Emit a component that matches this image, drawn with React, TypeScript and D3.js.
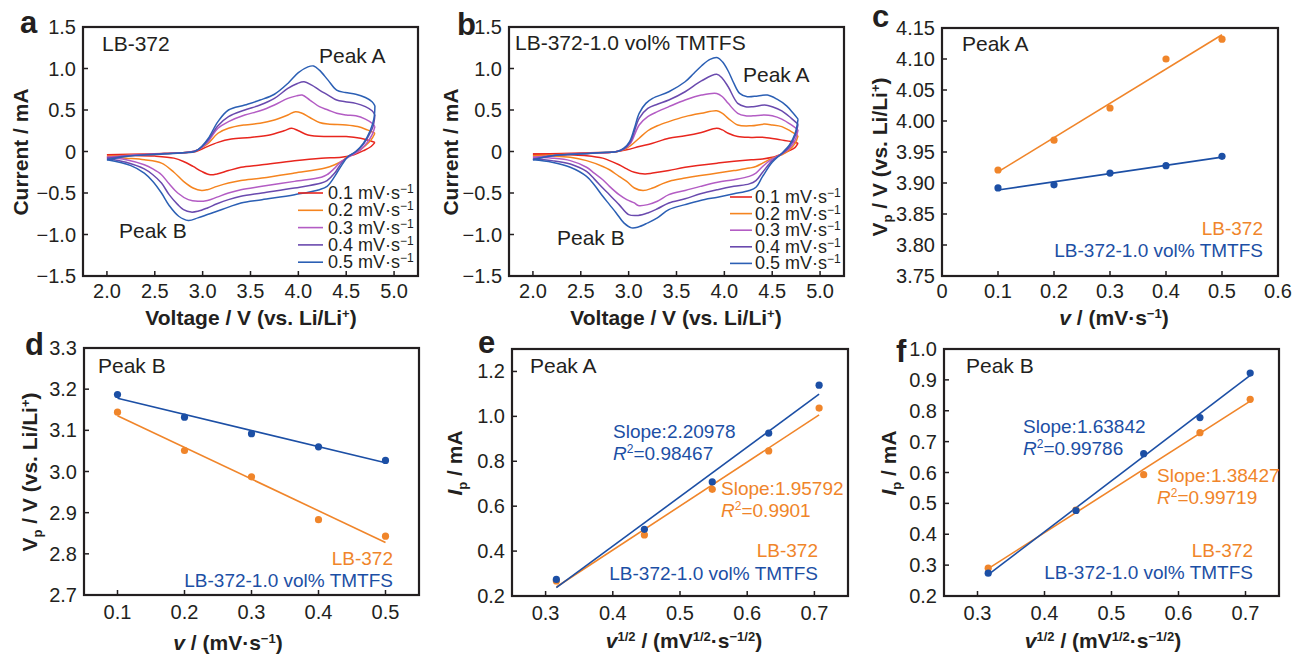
import React from 'react';
import * as d3 from 'd3';

type Pt = [number, number];

const FONT = 'Liberation Sans, Arial, Helvetica, sans-serif';
const INK = '#231f20';
const TICK_FS = 20;
const TITLE_FS = 21;
const PEAK_FS = 21;

// ---------- Data ----------
const scanRateLabels = ['0.1', '0.2', '0.3', '0.4', '0.5'];
const cvColors = ['#e8261e', '#f5841f', '#b35cc4', '#6a4aae', '#2b5fb4'];
const orangeC = '#f0852a';
const blueC = '#1c4fa5';

// Panel a: LB-372 CV (V, mA)
const aFwd01: Pt[] = [[2.0,-0.04],[2.4,-0.03],[2.8,-0.015],[2.93,0.0],[3.03,0.05],[3.16,0.11],[3.3,0.15],[3.5,0.17],[3.7,0.2],[3.85,0.25],[3.93,0.28],[4.0,0.25],[4.1,0.2],[4.3,0.18],[4.5,0.18],[4.65,0.16],[4.75,0.13],[4.8,0.11]];
const aRev01: Pt[] = [[4.8,0.11],[4.76,0.06],[4.68,0.01],[4.58,-0.04],[4.45,-0.07],[4.24,-0.08],[3.96,-0.11],[3.62,-0.16],[3.4,-0.19],[3.27,-0.23],[3.15,-0.27],[3.08,-0.28],[2.99,-0.24],[2.9,-0.18],[2.8,-0.12],[2.7,-0.08],[2.5,-0.055],[2.2,-0.045],[2.0,-0.04]];
const aFwd02: Pt[] = [[2.0,-0.06],[2.3,-0.04],[2.6,-0.025],[2.85,-0.01],[2.95,0.02],[3.05,0.09],[3.16,0.22],[3.27,0.28],[3.44,0.32],[3.6,0.34],[3.75,0.38],[3.89,0.44],[3.97,0.48],[4.04,0.46],[4.12,0.41],[4.22,0.35],[4.31,0.33],[4.5,0.32],[4.62,0.3],[4.72,0.26],[4.8,0.22]];
const aRev02: Pt[] = [[4.8,0.22],[4.76,0.14],[4.7,0.07],[4.62,0.0],[4.52,-0.06],[4.45,-0.12],[4.38,-0.16],[4.28,-0.2],[3.96,-0.26],[3.62,-0.32],[3.4,-0.35],[3.27,-0.38],[3.15,-0.42],[3.05,-0.46],[2.99,-0.47],[2.9,-0.44],[2.8,-0.36],[2.7,-0.25],[2.57,-0.14],[2.39,-0.1],[2.2,-0.08],[2.0,-0.06]];
const aFwd03: Pt[] = [[2.0,-0.07],[2.3,-0.04],[2.6,-0.025],[2.85,-0.01],[2.95,0.02],[3.05,0.11],[3.16,0.28],[3.27,0.36],[3.44,0.44],[3.6,0.49],[3.75,0.56],[3.89,0.64],[3.98,0.67],[4.04,0.68],[4.12,0.62],[4.22,0.54],[4.31,0.5],[4.4,0.46],[4.5,0.44],[4.6,0.43],[4.7,0.39],[4.77,0.34],[4.8,0.3]];
const aRev03: Pt[] = [[4.8,0.3],[4.77,0.2],[4.72,0.11],[4.65,0.02],[4.55,-0.05],[4.45,-0.12],[4.38,-0.2],[4.3,-0.28],[4.24,-0.31],[3.96,-0.36],[3.62,-0.42],[3.4,-0.46],[3.27,-0.5],[3.15,-0.55],[3.05,-0.59],[2.95,-0.6],[2.85,-0.58],[2.74,-0.5],[2.65,-0.39],[2.57,-0.28],[2.48,-0.21],[2.39,-0.16],[2.2,-0.1],[2.0,-0.07]];
const aFwd04: Pt[] = [[2.0,-0.08],[2.3,-0.045],[2.6,-0.025],[2.85,-0.01],[2.95,0.02],[3.05,0.13],[3.16,0.31],[3.27,0.42],[3.44,0.5],[3.6,0.56],[3.75,0.64],[3.89,0.76],[3.99,0.82],[4.06,0.84],[4.14,0.8],[4.22,0.74],[4.31,0.68],[4.4,0.62],[4.49,0.6],[4.6,0.58],[4.7,0.54],[4.77,0.49],[4.8,0.44]];
const aRev04: Pt[] = [[4.8,0.44],[4.78,0.3],[4.73,0.18],[4.66,0.06],[4.58,-0.02],[4.52,-0.06],[4.45,-0.14],[4.38,-0.26],[4.3,-0.35],[4.24,-0.38],[3.96,-0.44],[3.62,-0.5],[3.4,-0.54],[3.27,-0.58],[3.15,-0.63],[3.05,-0.68],[2.95,-0.72],[2.88,-0.73],[2.8,-0.7],[2.74,-0.64],[2.65,-0.52],[2.57,-0.38],[2.48,-0.28],[2.39,-0.21],[2.2,-0.13],[2.0,-0.08]];
const aFwd05: Pt[] = [[2.0,-0.1],[2.2,-0.06],[2.5,-0.035],[2.8,-0.015],[2.92,0.0],[2.99,0.06],[3.06,0.16],[3.16,0.36],[3.27,0.5],[3.44,0.56],[3.6,0.62],[3.75,0.69],[3.89,0.82],[4.0,0.95],[4.1,1.02],[4.16,1.03],[4.22,0.98],[4.31,0.86],[4.4,0.74],[4.49,0.71],[4.6,0.69],[4.7,0.65],[4.77,0.6],[4.8,0.55]];
const aRev05: Pt[] = [[4.8,0.55],[4.79,0.4],[4.75,0.25],[4.68,0.1],[4.6,0.0],[4.52,-0.06],[4.45,-0.17],[4.38,-0.3],[4.3,-0.42],[4.22,-0.46],[3.96,-0.52],[3.62,-0.58],[3.4,-0.62],[3.27,-0.67],[3.15,-0.72],[3.05,-0.76],[2.95,-0.8],[2.85,-0.83],[2.75,-0.78],[2.65,-0.65],[2.57,-0.5],[2.48,-0.36],[2.39,-0.26],[2.25,-0.17],[2.0,-0.1]];

// Panel b: LB-372-1.0 vol% TMTFS CV (V, mA)
const bFwd01: Pt[] = [[2.0,-0.03],[2.3,-0.025],[2.6,-0.015],[2.85,-0.005],[2.98,0.02],[3.11,0.06],[3.25,0.1],[3.42,0.16],[3.59,0.19],[3.76,0.23],[3.92,0.28],[3.98,0.26],[4.04,0.22],[4.14,0.18],[4.28,0.17],[4.42,0.17],[4.59,0.14],[4.7,0.12],[4.77,0.1]];
const bRev01: Pt[] = [[4.77,0.1],[4.74,0.05],[4.68,0.01],[4.6,-0.03],[4.5,-0.07],[4.4,-0.09],[4.28,-0.1],[3.93,-0.14],[3.59,-0.19],[3.42,-0.23],[3.25,-0.26],[3.17,-0.27],[3.06,-0.25],[2.98,-0.21],[2.9,-0.16],[2.8,-0.11],[2.73,-0.08],[2.56,-0.05],[2.39,-0.04],[2.0,-0.03]];
const bFwd02: Pt[] = [[2.0,-0.05],[2.3,-0.035],[2.6,-0.02],[2.85,-0.005],[2.95,0.02],[3.02,0.07],[3.11,0.16],[3.2,0.25],[3.3,0.31],[3.42,0.36],[3.59,0.42],[3.76,0.46],[3.92,0.49],[3.98,0.46],[4.04,0.4],[4.14,0.32],[4.28,0.31],[4.42,0.33],[4.5,0.32],[4.6,0.3],[4.7,0.24],[4.77,0.19]];
const bRev02: Pt[] = [[4.77,0.19],[4.74,0.1],[4.68,0.02],[4.6,-0.04],[4.5,-0.08],[4.4,-0.14],[4.33,-0.18],[4.26,-0.2],[4.1,-0.23],[3.93,-0.26],[3.75,-0.29],[3.59,-0.32],[3.45,-0.35],[3.35,-0.39],[3.25,-0.44],[3.15,-0.47],[3.06,-0.44],[2.98,-0.36],[2.9,-0.3],[2.8,-0.22],[2.73,-0.18],[2.56,-0.11],[2.39,-0.07],[2.2,-0.055],[2.0,-0.05]];
const bFwd03: Pt[] = [[2.0,-0.07],[2.3,-0.04],[2.6,-0.02],[2.85,-0.005],[2.95,0.03],[3.02,0.1],[3.11,0.32],[3.2,0.42],[3.3,0.48],[3.42,0.54],[3.59,0.62],[3.76,0.68],[3.92,0.7],[3.98,0.66],[4.04,0.58],[4.14,0.46],[4.22,0.43],[4.3,0.43],[4.42,0.44],[4.5,0.43],[4.6,0.39],[4.7,0.32],[4.77,0.26]];
const bRev03: Pt[] = [[4.77,0.26],[4.74,0.14],[4.68,0.04],[4.6,-0.03],[4.5,-0.09],[4.4,-0.18],[4.33,-0.26],[4.26,-0.3],[4.1,-0.34],[3.93,-0.37],[3.75,-0.42],[3.59,-0.47],[3.42,-0.52],[3.3,-0.6],[3.2,-0.64],[3.1,-0.65],[3.06,-0.62],[2.98,-0.58],[2.9,-0.52],[2.8,-0.42],[2.73,-0.34],[2.64,-0.26],[2.56,-0.19],[2.39,-0.11],[2.2,-0.08],[2.0,-0.07]];
const bFwd04: Pt[] = [[2.0,-0.09],[2.3,-0.04],[2.6,-0.02],[2.85,-0.005],[2.95,0.03],[3.02,0.12],[3.11,0.4],[3.2,0.52],[3.3,0.57],[3.42,0.62],[3.59,0.72],[3.76,0.85],[3.92,0.93],[3.98,0.88],[4.04,0.78],[4.14,0.58],[4.22,0.54],[4.3,0.54],[4.42,0.56],[4.5,0.54],[4.6,0.49],[4.7,0.4],[4.77,0.33]];
const bRev04: Pt[] = [[4.77,0.33],[4.74,0.19],[4.68,0.06],[4.6,-0.03],[4.5,-0.11],[4.4,-0.25],[4.33,-0.35],[4.26,-0.39],[4.1,-0.42],[3.93,-0.46],[3.75,-0.51],[3.59,-0.57],[3.42,-0.62],[3.3,-0.69],[3.2,-0.74],[3.1,-0.77],[3.0,-0.76],[2.9,-0.64],[2.8,-0.52],[2.73,-0.44],[2.64,-0.33],[2.56,-0.24],[2.39,-0.15],[2.2,-0.11],[2.0,-0.09]];
const bFwd05: Pt[] = [[2.0,-0.1],[2.2,-0.05],[2.5,-0.03],[2.75,-0.01],[2.88,0.0],[2.95,0.04],[3.01,0.12],[3.06,0.28],[3.11,0.46],[3.18,0.58],[3.25,0.64],[3.42,0.72],[3.59,0.84],[3.68,0.94],[3.76,1.03],[3.85,1.11],[3.93,1.13],[3.98,1.08],[4.04,0.97],[4.1,0.82],[4.16,0.7],[4.24,0.66],[4.35,0.67],[4.45,0.68],[4.55,0.63],[4.65,0.55],[4.72,0.46],[4.77,0.39]];
const bRev05: Pt[] = [[4.77,0.39],[4.74,0.22],[4.68,0.08],[4.6,-0.02],[4.5,-0.13],[4.4,-0.3],[4.33,-0.43],[4.26,-0.47],[4.1,-0.51],[3.93,-0.55],[3.75,-0.59],[3.59,-0.64],[3.42,-0.7],[3.3,-0.8],[3.2,-0.86],[3.1,-0.91],[3.03,-0.92],[2.95,-0.86],[2.87,-0.74],[2.8,-0.64],[2.73,-0.54],[2.64,-0.4],[2.56,-0.3],[2.39,-0.19],[2.2,-0.13],[2.0,-0.1]];

const aLoops: [Pt[], Pt[]][] = [[aFwd01, aRev01], [aFwd02, aRev02], [aFwd03, aRev03], [aFwd04, aRev04], [aFwd05, aRev05]];
const bLoops: [Pt[], Pt[]][] = [[bFwd01, bRev01], [bFwd02, bRev02], [bFwd03, bRev03], [bFwd04, bRev04], [bFwd05, bRev05]];

const cvXTicks = [2.0, 2.5, 3.0, 3.5, 4.0, 4.5, 5.0];
const cvYTicks = [-1.5, -1.0, -0.5, 0, 0.5, 1.0, 1.5];

// Peak data
const scanRate = [0.1, 0.2, 0.3, 0.4, 0.5];
const sqrtScanRate = [0.316, 0.447, 0.548, 0.632, 0.707];
const peakAVoltLB = [3.921, 3.969, 4.021, 4.1, 4.132];
const peakAVoltTM = [3.892, 3.897, 3.916, 3.928, 3.943];
const peakBVoltLB = [3.144, 3.051, 2.987, 2.883, 2.843];
const peakBVoltTM = [3.187, 3.132, 3.092, 3.06, 3.027];
const peakACurLB = [0.267, 0.472, 0.675, 0.846, 1.037];
const peakACurTM = [0.274, 0.497, 0.708, 0.925, 1.139];
const peakBCurLB = [0.29, 0.478, 0.593, 0.729, 0.837];
const peakBCurTM = [0.274, 0.477, 0.661, 0.778, 0.922];

const cXTicks = [0, 0.1, 0.2, 0.3, 0.4, 0.5, 0.6];
const cYTicks = [3.75, 3.8, 3.85, 3.9, 3.95, 4.0, 4.05, 4.1, 4.15];
const dXTicks = [0.1, 0.2, 0.3, 0.4, 0.5];
const dYTicks = [2.7, 2.8, 2.9, 3.0, 3.1, 3.2, 3.3];
const efXTicks = [0.3, 0.4, 0.5, 0.6, 0.7];
const eYTicks = [0.2, 0.4, 0.6, 0.8, 1.0, 1.2];
const fYTicks = [0.2, 0.3, 0.4, 0.5, 0.6, 0.7, 0.8, 0.9, 1.0];

// ---------- helpers ----------
type Box = { l: number; t: number; r: number; b: number };
type Scale = d3.ScaleLinear<number, number>;

function fmtNum(t: number, digits: number, zeroPlain = false) {
  if (zeroPlain && Math.abs(t) < 1e-9) return '0';
  const s = Math.abs(t).toFixed(digits);
  return (t < 0 ? '\u2212' : '') + s;
}

function linFit(xs: number[], ys: number[]) {
  const mx = d3.mean(xs) as number;
  const my = d3.mean(ys) as number;
  let sxy = 0;
  let sxx = 0;
  xs.forEach((x, i) => {
    sxy += (x - mx) * (ys[i] - my);
    sxx += (x - mx) * (x - mx);
  });
  const m = sxy / sxx;
  return (x: number) => my + m * (x - mx);
}

function Frame(props: {
  box: Box; x: Scale; y: Scale; xTicks: number[]; yTicks: number[];
  xFmt: (t: number) => string; yFmt: (t: number) => string; xLabelDy: number;
}) {
  const { box, x, y, xTicks, yTicks, xFmt, yFmt, xLabelDy } = props;
  return (
    <g>
      {xTicks.map((t) => (
        <g key={'x' + t}>
          <line x1={x(t)} x2={x(t)} y1={box.b} y2={box.b - 5} stroke={INK} strokeWidth={1.5} />
          <text x={x(t)} y={box.b + xLabelDy} textAnchor="middle" fontSize={TICK_FS} fill={INK}>{xFmt(t)}</text>
        </g>
      ))}
      {yTicks.map((t) => (
        <g key={'y' + t}>
          <line x1={box.l} x2={box.l + 5} y1={y(t)} y2={y(t)} stroke={INK} strokeWidth={1.5} />
          <text x={box.l - 7} y={y(t) + 7} textAnchor="end" fontSize={TICK_FS} fill={INK}>{yFmt(t)}</text>
        </g>
      ))}
      <rect x={box.l} y={box.t} width={box.r - box.l} height={box.b - box.t} fill="none" stroke={INK} strokeWidth={2.2} />
    </g>
  );
}

function CVPanel(props: { box: Box; loops: [Pt[], Pt[]][]; legendX1: number; legendX2: number; legendTextX: number; legendY0: number; legendDy: number }) {
  const { box, loops, legendX1, legendX2, legendTextX, legendY0, legendDy } = props;
  const x = d3.scaleLinear().domain([1.75, 5.25]).range([box.l, box.r]);
  const y = d3.scaleLinear().domain([-1.5, 1.5]).range([box.b, box.t]);
  const line = d3.line<Pt>().x((d) => x(d[0])).y((d) => y(d[1])).curve(d3.curveCatmullRom.alpha(0.5));
  return (
    <g>
      {loops.map((lp, i) => (
        <g key={i}>
          <path d={line(lp[0]) || ''} fill="none" stroke={cvColors[i]} strokeWidth={1.5} />
          <path d={line(lp[1]) || ''} fill="none" stroke={cvColors[i]} strokeWidth={1.5} />
        </g>
      ))}
      <Frame box={box} x={x} y={y} xTicks={cvXTicks} yTicks={cvYTicks}
        xFmt={(t) => t.toFixed(1)} yFmt={(t) => fmtNum(t, 1, true)} xLabelDy={22} />
      {scanRateLabels.map((s, i) => {
        const yy = legendY0 + i * legendDy;
        return (
          <g key={s}>
            <line x1={legendX1} x2={legendX2} y1={yy} y2={yy} stroke={cvColors[i]} strokeWidth={1.6} />
            <text x={legendTextX} y={yy + 6} fontSize={18} fill={INK}>
              {s} mV·s<tspan dy={-6} fontSize={12}>−1</tspan>
            </text>
          </g>
        );
      })}
    </g>
  );
}

function ScatterPair(props: { x: Scale; y: Scale; xs: number[]; ysLB: number[]; ysTM: number[] }) {
  const { x, y, xs, ysLB, ysTM } = props;
  const fLB = linFit(xs, ysLB);
  const fTM = linFit(xs, ysTM);
  const x0 = xs[0];
  const x1 = xs[xs.length - 1];
  const series = [
    { ys: ysLB, f: fLB, c: orangeC },
    { ys: ysTM, f: fTM, c: blueC },
  ];
  return (
    <g>
      {series.map((s, k) => (
        <line key={'l' + k} x1={x(x0)} x2={x(x1)} y1={y(s.f(x0))} y2={y(s.f(x1))} stroke={s.c} strokeWidth={1.6} />
      ))}
      {series.map((s, k) => (
        <g key={'p' + k}>
          {xs.map((xv, i) => (
            <circle key={i} cx={x(xv)} cy={y(s.ys[i])} r={3.6} fill={s.c} />
          ))}
        </g>
      ))}
    </g>
  );
}

function Letter({ x, y, t }: { x: number; y: number; t: string }) {
  return <text x={x} y={y} fontSize={31} fontWeight="bold" fill={INK}>{t}</text>;
}

function SampleLabels({ xr, y1, y2 }: { xr: number; y1: number; y2: number }) {
  return (
    <g fontSize={19}>
      <text x={xr} y={y1} textAnchor="end" fill={orangeC}>LB-372</text>
      <text x={xr} y={y2} textAnchor="end" fill={blueC}>LB-372-1.0 vol% TMTFS</text>
    </g>
  );
}

function VpTitle({ x, y }: { x: number; y: number }) {
  return (
    <text transform={`translate(${x},${y}) rotate(-90)`} textAnchor="middle" fontSize={TITLE_FS} fontWeight="bold" fill={INK}>
      V<tspan dy={5} fontSize={13}>p</tspan><tspan dy={-5}> / V (vs. Li/Li</tspan><tspan dy={-7} fontSize={13}>+</tspan><tspan dy={7}>)</tspan>
    </text>
  );
}

function IpTitle({ x, y }: { x: number; y: number }) {
  return (
    <text transform={`translate(${x},${y}) rotate(-90)`} textAnchor="middle" fontSize={TITLE_FS} fontWeight="bold" fill={INK}>
      <tspan fontStyle="italic">I</tspan><tspan dy={5} fontSize={13}>p</tspan><tspan dy={-5}> / mA</tspan>
    </text>
  );
}

function VTitle({ x, y }: { x: number; y: number }) {
  return (
    <text x={x} y={y} textAnchor="middle" fontSize={TITLE_FS} fontWeight="bold" fill={INK}>
      <tspan fontStyle="italic">v</tspan> / (mV·s<tspan dy={-7} fontSize={13}>−1</tspan><tspan dy={7}>)</tspan>
    </text>
  );
}

function SqrtVTitle({ x, y }: { x: number; y: number }) {
  return (
    <text x={x} y={y} textAnchor="middle" fontSize={TITLE_FS} fontWeight="bold" fill={INK}>
      <tspan fontStyle="italic">v</tspan><tspan dy={-7} fontSize={13}>1/2</tspan><tspan dy={7}> / (mV</tspan>
      <tspan dy={-7} fontSize={13}>1/2</tspan><tspan dy={7}>·s</tspan><tspan dy={-7} fontSize={13}>−1/2</tspan><tspan dy={7}>)</tspan>
    </text>
  );
}

function SlopeText({ x, y, slope, r2, c }: { x: number; y: number; slope: string; r2: string; c: string }) {
  return (
    <g fontSize={19} fill={c}>
      <text x={x} y={y}>Slope:{slope}</text>
      <text x={x} y={y + 22}>
        <tspan fontStyle="italic">R</tspan><tspan dy={-7} fontSize={12}>2</tspan><tspan dy={7}>={r2}</tspan>
      </text>
    </g>
  );
}

export default function App() {
  const boxA: Box = { l: 83, t: 27, r: 418, b: 276 };
  const boxB: Box = { l: 509, t: 27, r: 844, b: 276 };
  const boxC: Box = { l: 942, t: 28, r: 1278, b: 276 };
  const boxD: Box = { l: 84, t: 348, r: 419, b: 595 };
  const boxE: Box = { l: 512, t: 349, r: 848, b: 596 };
  const boxF: Box = { l: 944, t: 349, r: 1279, b: 596 };

  const xC = d3.scaleLinear().domain([0, 0.6]).range([boxC.l, boxC.r]);
  const yC = d3.scaleLinear().domain([3.75, 4.15]).range([boxC.b, boxC.t]);
  const xD = d3.scaleLinear().domain([0.05, 0.55]).range([boxD.l, boxD.r]);
  const yD = d3.scaleLinear().domain([2.7, 3.3]).range([boxD.b, boxD.t]);
  const xE = d3.scaleLinear().domain([0.25, 0.75]).range([boxE.l, boxE.r]);
  const yE = d3.scaleLinear().domain([0.2, 1.3]).range([boxE.b, boxE.t]);
  const xF = d3.scaleLinear().domain([0.25, 0.75]).range([boxF.l, boxF.r]);
  const yF = d3.scaleLinear().domain([0.2, 1.0]).range([boxF.b, boxF.t]);

  return (
    <svg width={1297} height={654} style={{ position: 'absolute', left: 0, top: 0, background: '#fff' }} fontFamily={FONT}>
      <rect x={0} y={0} width={1297} height={654} fill="#fff" />

      {/* Panel a */}
      <CVPanel box={boxA} loops={aLoops} legendX1={298} legendX2={323} legendTextX={328} legendY0={193} legendDy={17.3} />
      <Letter x={20} y={33} t="a" />
      <text x={102} y={51} fontSize={PEAK_FS} fill={INK}>LB-372</text>
      <text x={319} y={63} fontSize={PEAK_FS} fill={INK}>Peak A</text>
      <text x={119} y={238} fontSize={PEAK_FS} fill={INK}>Peak B</text>
      <text transform="translate(28,152) rotate(-90)" textAnchor="middle" fontSize={TITLE_FS} fontWeight="bold" fill={INK}>Current / mA</text>
      <text x={251} y={325} textAnchor="middle" fontSize={TITLE_FS} fontWeight="bold" fill={INK}>
        Voltage / V (vs. Li/Li<tspan dy={-7} fontSize={13}>+</tspan><tspan dy={7}>)</tspan>
      </text>

      {/* Panel b */}
      <CVPanel box={boxB} loops={bLoops} legendX1={730} legendX2={752} legendTextX={755} legendY0={197} legendDy={16.6} />
      <Letter x={457} y={35} t="b" />
      <text x={515} y={50} fontSize={PEAK_FS} fill={INK}>LB-372-1.0 vol% TMTFS</text>
      <text x={743} y={82} fontSize={PEAK_FS} fill={INK}>Peak A</text>
      <text x={557} y={245} fontSize={PEAK_FS} fill={INK}>Peak B</text>
      <text transform="translate(458,152) rotate(-90)" textAnchor="middle" fontSize={TITLE_FS} fontWeight="bold" fill={INK}>Current / mA</text>
      <text x={676} y={325} textAnchor="middle" fontSize={TITLE_FS} fontWeight="bold" fill={INK}>
        Voltage / V (vs. Li/Li<tspan dy={-7} fontSize={13}>+</tspan><tspan dy={7}>)</tspan>
      </text>

      {/* Panel c */}
      <ScatterPair x={xC} y={yC} xs={scanRate} ysLB={peakAVoltLB} ysTM={peakAVoltTM} />
      <Frame box={boxC} x={xC} y={yC} xTicks={cXTicks} yTicks={cYTicks}
        xFmt={(t) => fmtNum(t, 1, true)} yFmt={(t) => t.toFixed(2)} xLabelDy={22} />
      <Letter x={872} y={27} t="c" />
      <text x={962} y={51} fontSize={PEAK_FS} fill={INK}>Peak A</text>
      <SampleLabels xr={1263} y1={235} y2={257} />
      <VpTitle x={887} y={157} />
      <VTitle x={1114} y={325} />

      {/* Panel d */}
      <ScatterPair x={xD} y={yD} xs={scanRate} ysLB={peakBVoltLB} ysTM={peakBVoltTM} />
      <Frame box={boxD} x={xD} y={yD} xTicks={dXTicks} yTicks={dYTicks}
        xFmt={(t) => t.toFixed(1)} yFmt={(t) => t.toFixed(1)} xLabelDy={24} />
      <Letter x={25} y={355} t="d" />
      <text x={98} y={373} fontSize={PEAK_FS} fill={INK}>Peak B</text>
      <SampleLabels xr={393} y1={565} y2={587} />
      <VpTitle x={37} y={472} />
      <VTitle x={228} y={650} />

      {/* Panel e */}
      <ScatterPair x={xE} y={yE} xs={sqrtScanRate} ysLB={peakACurLB} ysTM={peakACurTM} />
      <Frame box={boxE} x={xE} y={yE} xTicks={efXTicks} yTicks={eYTicks}
        xFmt={(t) => t.toFixed(1)} yFmt={(t) => t.toFixed(1)} xLabelDy={24} />
      <Letter x={478} y={353} t="e" />
      <text x={530} y={373} fontSize={PEAK_FS} fill={INK}>Peak A</text>
      <SlopeText x={613} y={438} slope="2.20978" r2="0.98467" c={blueC} />
      <SlopeText x={721} y={495} slope="1.95792" r2="0.9901" c={orangeC} />
      <SampleLabels xr={818} y1={557} y2={580} />
      <IpTitle x={462} y={463} />
      <SqrtVTitle x={684} y={648} />

      {/* Panel f */}
      <ScatterPair x={xF} y={yF} xs={sqrtScanRate} ysLB={peakBCurLB} ysTM={peakBCurTM} />
      <Frame box={boxF} x={xF} y={yF} xTicks={efXTicks} yTicks={fYTicks}
        xFmt={(t) => t.toFixed(1)} yFmt={(t) => t.toFixed(1)} xLabelDy={24} />
      <Letter x={896} y={362} t="f" />
      <text x={966} y={373} fontSize={PEAK_FS} fill={INK}>Peak B</text>
      <SlopeText x={1023} y={433} slope="1.63842" r2="0.99786" c={blueC} />
      <SlopeText x={1157} y={482} slope="1.38427" r2="0.99719" c={orangeC} />
      <SampleLabels xr={1253} y1={557} y2={579} />
      <IpTitle x={896} y={463} />
      <SqrtVTitle x={1103} y={648} />
    </svg>
  );
}
